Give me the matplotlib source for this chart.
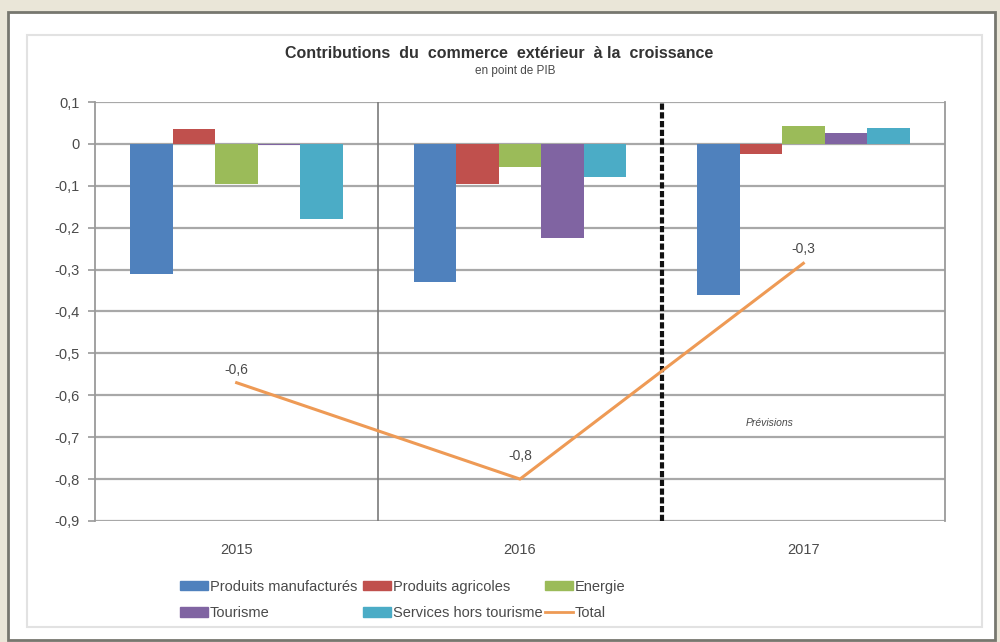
import matplotlib
matplotlib.use("Agg")
import matplotlib.pyplot as plt
from matplotlib.patches import Rectangle
from matplotlib.lines import Line2D
import numpy as np

plt.rcParams['font.family'] = ['Liberation Sans', 'DejaVu Sans']

years = ["2015", "2016", "2017"]
series_names = ["Produits manufacturés", "Produits agricoles", "Energie",
                "Tourisme", "Services hors tourisme"]
manufactures = [-0.31, -0.33, -0.36]
agricoles = [0.035, -0.095, -0.025]
energie = [-0.095, -0.055, 0.043]
tourisme = [-0.002, -0.225, 0.025]
services = [-0.18, -0.08, 0.038]
total = [-0.57, -0.80, -0.285]
total_labels = ["-0,6", "-0,8", "-0,3"]
yticks = [0.1, 0, -0.1, -0.2, -0.3, -0.4, -0.5, -0.6, -0.7, -0.8, -0.9]

colors = ["#4F81BD", "#C0504D", "#9BBB59", "#8064A2", "#4BACC6"]
line_color = "#EE9A55"
text_color = "#4a4a4a"

fig = plt.figure(figsize=(10, 6.42), dpi=100)
fig.patch.set_facecolor("#EAE6D8")

# frame panels
fig.add_artist(Rectangle((0.008, 0.003), 0.987, 0.978, transform=fig.transFigure,
                         facecolor="white", edgecolor="#77776f", lw=2.0, zorder=0))
fig.add_artist(Rectangle((0.027, 0.023), 0.955, 0.922, transform=fig.transFigure,
                         facecolor="white", edgecolor="#e2e2e2", lw=1.5, zorder=0))

ax = fig.add_axes([0.095, 0.1885, 0.85, 0.6526])
ax.set_facecolor("white")

x = np.arange(len(years))
width = 0.15
all_series = [manufactures, agricoles, energie, tourisme, services]
for i, (vals, col, name) in enumerate(zip(all_series, colors, series_names)):
    ax.bar(x + (i - 2) * width, vals, width, color=col, label=name, zorder=3)

ax.plot(x, total, color=line_color, lw=2.2, zorder=4, label="Total")
offsets = [0.03, 0.055, 0.035]
for xi, v, lab, off in zip(x, total, total_labels, offsets):
    ax.text(xi, v + off, lab, ha="center", va="center", fontsize=10,
            color=text_color, zorder=5)

ax.text(1.88, -0.665, "Prévisions", fontsize=7.5, style="italic",
        color=text_color, ha="center", va="center")

ax.set_xlim(-0.5, 2.5)
ax.set_ylim(-0.9, 0.1)
ax.set_yticks(yticks)
ax.set_yticklabels([f"{t:.1f}".replace(".", ",") if t != 0 else "0" for t in yticks])
ax.set_xticks(x)
ax.set_xticklabels(years)
ax.tick_params(axis="x", length=0, pad=16, labelsize=10.5, labelcolor=text_color)
ax.tick_params(axis="y", length=5, color="#9a9a9a", width=1.2, pad=6,
               labelsize=10.5, labelcolor=text_color)
ax.yaxis.grid(True, color="#a8a8a8", lw=1.6, zorder=1)
ax.set_axisbelow(True)
for s in ["top", "bottom"]:
    ax.spines[s].set_visible(False)
for s in ["left", "right"]:
    ax.spines[s].set_color("#9a9a9a")
    ax.spines[s].set_linewidth(1.3)

ax.axvline(0.5, color="#7a7a7a", lw=1.2, zorder=2)
ax.axvline(1.5, color="#111111", lw=3, ls=(0, (1.5, 0.6)), zorder=2)

fig.text(0.499, 0.917, "Contributions  du  commerce  extérieur  à la  croissance",
         ha="center", va="center", fontsize=11.5, fontweight="bold", color="#333333")
fig.text(0.515, 0.889, "en point de PIB", ha="center", va="center",
         fontsize=8.5, color=text_color)

# legend: three columns of two rows
handles = [Rectangle((0, 0), 1, 1, color=c) for c in colors] + \
          [Line2D([0], [0], color=line_color, lw=2)]
labels = series_names + ["Total"]
cols = [(0, 3), (1, 4), (2, 5)]
col_x = [0.180, 0.363, 0.545]
for cx, (a, b) in zip(col_x, cols):
    leg = fig.legend([handles[a], handles[b]], [labels[a], labels[b]],
                     loc="upper left", bbox_to_anchor=(cx, 0.097),
                     frameon=False, fontsize=10.5, handlelength=1.9,
                     handleheight=0.6, handletextpad=0.15, labelspacing=0.85,
                     borderpad=0.0, borderaxespad=0.0)
    for t in leg.get_texts():
        t.set_color(text_color)

fig.savefig("out.png", dpi=100, facecolor=fig.get_facecolor())
